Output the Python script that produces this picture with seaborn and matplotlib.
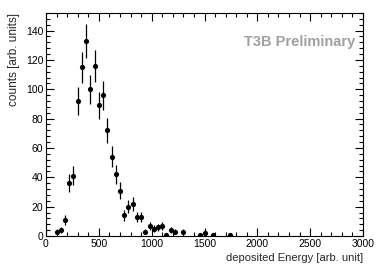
import matplotlib
matplotlib.use("Agg")
import matplotlib.pyplot as plt
import seaborn as sns
import pandas as pd
from matplotlib.ticker import MultipleLocator

energy = [100, 140, 180, 220, 260, 300, 340, 380, 420, 460, 500, 540, 580, 620, 660,
          700, 740, 780, 820, 860, 900, 940, 980, 1020, 1060, 1100, 1140, 1180, 1220,
          1300, 1460, 1500, 1580, 1740]
counts = [3, 4, 11, 36, 41, 92, 115, 133, 100, 116, 89, 96, 72, 54, 42,
          31, 14, 20, 22, 13, 13, 3, 7, 5, 6, 7, 1, 4, 3,
          3, 1, 2, 1, 1]
errors = [1.7, 2.0, 3.3, 6.0, 6.4, 9.6, 10.7, 11.5, 10.0, 10.8, 9.4, 9.8, 8.5, 7.3, 6.5,
          5.6, 3.7, 4.5, 4.7, 3.6, 3.6, 1.7, 2.6, 2.2, 2.4, 2.6, 1.0, 2.0, 1.7,
          1.7, 1.0, 1.4, 1.0, 1.0]

df = pd.DataFrame({"energy": energy, "counts": counts, "err": errors})

sns.set_style("ticks")
plt.rcParams["font.family"] = ["Liberation Sans", "DejaVu Sans"]

fig = plt.figure(figsize=(3.82, 2.70), dpi=100)
ax = fig.add_axes([0.1204, 0.1259, 0.8299, 0.8260])

ax.errorbar(df["energy"], df["counts"], yerr=df["err"], fmt="none",
            ecolor="black", elinewidth=0.9, capsize=0)
sns.scatterplot(data=df, x="energy", y="counts", ax=ax, color="black",
                s=14, marker="o", edgecolor="black", linewidth=0, zorder=3)

ax.set_xlim(0, 3000)
ax.set_ylim(0, 152)
ax.xaxis.set_major_locator(MultipleLocator(500))
ax.xaxis.set_minor_locator(MultipleLocator(100))
ax.yaxis.set_major_locator(MultipleLocator(20))
ax.yaxis.set_minor_locator(MultipleLocator(4))
ax.tick_params(which="both", direction="in", top=True, right=True,
               labelsize=7.5, width=0.8, colors="black", pad=2)
ax.tick_params(which="major", length=6)
ax.tick_params(which="minor", length=3)
for s in ax.spines.values():
    s.set_linewidth(0.8)
    s.set_color("black")

ax.set_xlabel("deposited Energy [arb. unit]", loc="right", fontsize=8, labelpad=3)
ax.set_ylabel("counts [arb. units]", loc="top", fontsize=8.5, labelpad=4)

ax.text(0.80, 0.87, "T3B Preliminary", transform=ax.transAxes, ha="center",
        va="center", fontsize=10.5, fontweight="bold", color="#a0a0a0")

fig.savefig("out.png", dpi=100)
